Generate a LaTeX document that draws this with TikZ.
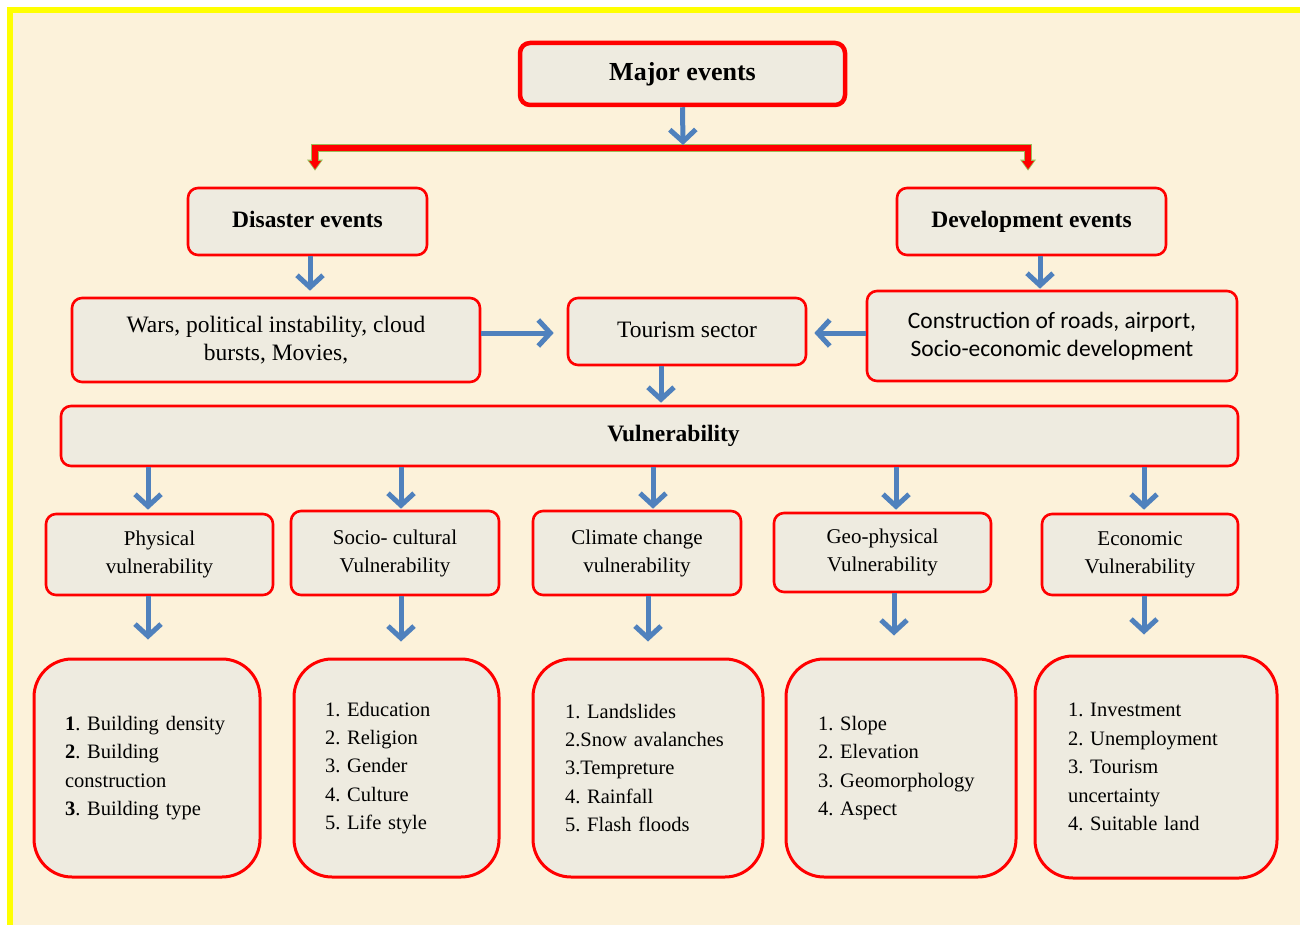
\documentclass[tikz,border=0pt]{standalone}
\usepackage{fontspec}
\setmainfont{Liberation Serif}
\newfontfamily\calib{Carlito}
\usetikzlibrary{arrows.meta,calc}
\definecolor{parch}{RGB}{252,242,218}
\definecolor{boxfill}{RGB}{238,235,224}
\definecolor{arrblue}{RGB}{79,129,189}
\definecolor{framey}{RGB}{255,255,0}
\definecolor{bargreen}{RGB}{155,187,89}
\frenchspacing
\tikzset{
  box/.style={draw=red, fill=boxfill, line width=2.6pt, rounded corners=10pt, inner sep=0pt, align=center},
  majbox/.style={box, line width=4.5pt},
  lbox/.style={box, font=\fontsize{21}{28}\selectfont},
  bbox/.style={draw=red, fill=boxfill, line width=3pt, rounded corners=38pt, inner sep=0pt, align=left,
    font=\fontsize{20.5}{28.4}\selectfont},
  barrow/.style={draw=arrblue, line width=5pt, -{Straight Barb[length=12pt,width=26pt]}},
  midfont/.style={font=\fontsize{23.5}{28}\selectfont},
  boldfont/.style={font=\fontsize{23.5}{28}\selectfont\bfseries},
}
\begin{document}
\frenchspacing
\begin{tikzpicture}[x=1pt,y=-1pt]
\useasboundingbox (0,0) rectangle (1300,925);
\fill[white] (0,0) rectangle (1300,925);
\fill[parch] (10,10) rectangle (1320,945);
\draw[framey, line width=6pt] (10,945) -- (10,10) -- (1320,10);

% nodes
\node[majbox, minimum width=325pt, minimum height=62pt, font=\fontsize{26}{30}\selectfont\bfseries] (maj) at (682.5,74) {Major events};
\node[box, boldfont, minimum width=239pt, minimum height=67pt] (dis) at (307.5,221.5) {\raisebox{4pt}{Disaster events}};
\node[box, boldfont, minimum width=269pt, minimum height=67pt] (dev) at (1031.5,221.5) {\raisebox{4pt}{Development events}};
\node[box, midfont, minimum width=408pt, minimum height=84pt] (wars) at (276,340) {Wars, political instability, cloud\\bursts, Movies,};
\node[box, midfont, minimum width=238pt, minimum height=67pt] (tour) at (687,331.5) {\raisebox{4pt}{Tourism sector}};
\node[box, font=\calib\fontsize{23.5}{28}\selectfont, minimum width=370pt, minimum height=90pt] (cons) at (1052,336) {Construction of roads, airport,\\Socio-economic development};
\node[box, boldfont, minimum width=1177pt, minimum height=60pt] (vul) at (649.5,436) {\hspace*{48pt}Vulnerability};

\node[lbox, minimum width=227pt, minimum height=81pt] (phys) at (159.5,554.5) {Physical\\vulnerability};
\node[lbox, minimum width=208pt, minimum height=84pt] (soc) at (395,553) {Socio- cultural\\Vulnerability};
\node[lbox, minimum width=208pt, minimum height=84pt] (clim) at (637,553) {Climate change\\vulnerability};
\node[lbox, minimum width=217pt, minimum height=79pt] (geo) at (882.5,552.5) {Geo-physical\\Vulnerability};
\node[lbox, minimum width=196pt, minimum height=81pt] (eco) at (1140,554.5) {Economic\\Vulnerability};

\node[bbox, minimum width=226pt, minimum height=218pt, text width=164pt] (b1) at (147,768)
  {\textbf{1}. Building density\\\textbf{2}. Building\\construction\\\textbf{3}. Building type};
\node[bbox, minimum width=205pt, minimum height=218pt, text width=143pt] (b2) at (396.5,768)
  {1. Education\\2. Religion\\3. Gender\\4. Culture\\5. Life style};
\node[bbox, minimum width=230pt, minimum height=218pt, text width=166pt] (b3) at (648,768)
  {1. Landslides\\2.Snow avalanches\\3.Tempreture\\4. Rainfall\\5. Flash floods};
\node[bbox, minimum width=230pt, minimum height=218pt, text width=166pt] (b4) at (901,768)
  {1. Slope\\2. Elevation\\3. Geomorphology\\4. Aspect};
\node[bbox, minimum width=242pt, minimum height=222pt, text width=176pt] (b5) at (1156,767)
  {1. Investment\\2. Unemployment\\3. Tourism\\uncertainty\\4. Suitable land};

% column coordinates
\coordinate (c1) at (148,0);
\coordinate (c2) at (401,0);
\coordinate (c3) at (653,0);
\coordinate (c4) at (896,0);
\coordinate (c5) at (1144,0);
\coordinate (d1) at (148,0);
\coordinate (d2) at (401,0);
\coordinate (d3) at (648,0);
\coordinate (d4) at (894,0);
\coordinate (d5) at (1144,0);
\coordinate (bar) at (683,148);

% red split connector
\draw[bargreen, line width=8.5pt, {Triangle[width=15pt,length=11pt]}-{Triangle[width=15pt,length=11pt]}]
  ([xshift=7.5pt,yshift=16pt]dis.north) |- (bar) -| ([xshift=-3.5pt,yshift=16pt]dev.north);
\draw[red, line width=6pt, {Triangle[width=11pt,length=8pt]}-{Triangle[width=11pt,length=8pt]}, shorten <=1.5pt, shorten >=1.5pt]
  ([xshift=7.5pt,yshift=16pt]dis.north) |- (bar) -| ([xshift=-3.5pt,yshift=16pt]dev.north);

% blue arrows
\draw[barrow] (maj.south) -- ([yshift=3pt]bar);
\draw[barrow, shorten >=6pt] ([xshift=2.5pt]dis.south) -- ([xshift=2.5pt]dis.south |- wars.north);
\draw[barrow, shorten >=1pt] ([xshift=8.5pt]dev.south) -- ([xshift=8.5pt]dev.south |- cons.north);
\draw[barrow, shorten >=13pt] ([yshift=-1.5pt]tour.west -| wars.east) -- ([yshift=-1.5pt]tour.west);
\draw[barrow, shorten >=7pt] ([yshift=-1.5pt]tour.east -| cons.west) -- ([yshift=-1.5pt]tour.east);
\draw[barrow, shorten >=2pt] ([xshift=-26pt]tour.south) -- ([xshift=-26pt]tour.south |- vul.north);

\draw[barrow, shorten >=3pt] (vul.south -| c1) -- (c1 |- phys.north);
\draw[barrow, shorten >=1pt] (vul.south -| c2) -- (c2 |- soc.north);
\draw[barrow, shorten >=1pt] (vul.south -| c3) -- (c3 |- clim.north);
\draw[barrow, shorten >=2pt] (vul.south -| c4) -- (c4 |- geo.north);
\draw[barrow, shorten >=3pt] (vul.south -| c5) -- (c5 |- eco.north);

\draw[barrow, shorten >=18pt] (phys.south -| d1) -- (d1 |- b1.north);
\draw[barrow, shorten >=16pt] (soc.south -| d2) -- (d2 |- b2.north);
\draw[barrow, shorten >=16pt] (clim.south -| d3) -- (d3 |- b3.north);
\draw[barrow, shorten >=22pt] (geo.south -| d4) -- (d4 |- b4.north);
\draw[barrow, shorten >=20pt] (eco.south -| d5) -- (d5 |- b5.north);
\end{tikzpicture}
\end{document}
